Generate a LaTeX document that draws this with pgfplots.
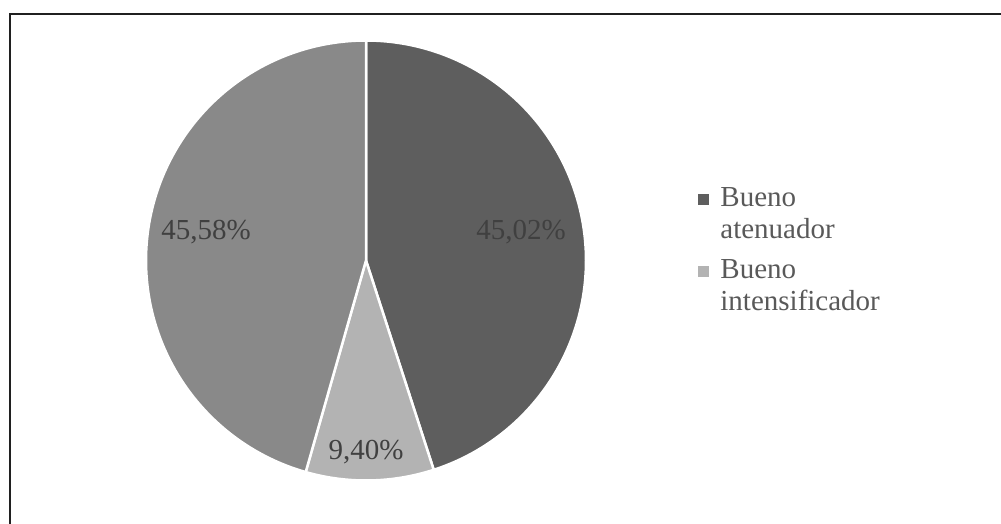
\documentclass[border=0pt]{standalone}
\usepackage{pgfplots}
\pgfplotsset{compat=1.18}
\usepackage{fontspec}
\setmainfont{Liberation Serif}
\definecolor{sliceA}{HTML}{5E5E5E}
\definecolor{sliceB}{HTML}{B3B3B3}
\definecolor{sliceC}{HTML}{898989}
\definecolor{labtxt}{HTML}{404040}
\definecolor{legtxt}{HTML}{595959}
\definecolor{frame}{HTML}{202020}
% data (percent)
\def\vA{45.02}
\def\vB{9.40}
\def\vC{45.58}
\pgfmathsetmacro\aS{90}
\pgfmathsetmacro\aA{90-3.6*\vA}
\pgfmathsetmacro\aB{\aA-3.6*\vB}
\pgfmathsetmacro\aC{\aB-3.6*\vC}
\begin{document}
\begin{tikzpicture}
\begin{axis}[
  at={(366pt,262.5pt)}, anchor=center,
  scale only axis, width=440pt, height=440pt,
  xmin=-1, xmax=1, ymin=-1, ymax=1,
  hide axis, clip=false,
  legend style={draw=none, fill=none, at={(1.255,0.670)}, anchor=north west,
    font=\fontsize{29}{32}\selectfont, text=legtxt, cells={align=left, anchor=north west},
    row sep=15pt, column sep=9pt, inner sep=0pt},
  legend image code/.code={\fill[#1, draw=none] (0pt,9pt) rectangle (11pt,20pt);},
  legend cell align=left,
]
\addplot[fill=sliceA, draw=white, line width=2.5pt, domain=\aA:\aS, samples=120, smooth]
  ({cos(x)},{sin(x)}) -- (axis cs:0,0) -- cycle;
\addlegendentry{Bueno\\atenuador}
\addplot[fill=sliceB, draw=white, line width=2.5pt, domain=\aB:\aA, samples=40, smooth]
  ({cos(x)},{sin(x)}) -- (axis cs:0,0) -- cycle;
\addlegendentry{Bueno\\intensificador}
\addplot[fill=sliceC, draw=white, line width=2.5pt, domain=\aC:\aB, samples=120, smooth, forget plot]
  ({cos(x)},{sin(x)}) -- (axis cs:0,0) -- cycle;
\node[text=labtxt, font=\fontsize{29}{32}\selectfont] at (axis cs:0.705,0.13) {45,02\%};
\node[text=labtxt, font=\fontsize{29}{32}\selectfont] at (axis cs:-0.727,0.13) {45,58\%};
\node[text=labtxt, font=\fontsize{29}{32}\selectfont] at (axis cs:0,-0.87) {9,40\%};
\end{axis}
\draw[frame, line width=2.5pt] (10pt,-5pt) -- (10pt,509pt) -- (1010pt,509pt);
\pgfresetboundingbox
\useasboundingbox (0pt,0pt) rectangle (1001pt,523pt);
\end{tikzpicture}
\end{document}
